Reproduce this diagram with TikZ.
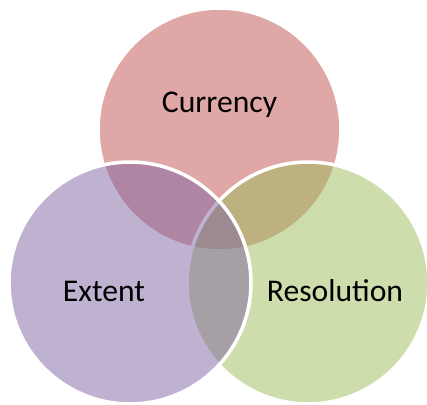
\documentclass[tikz,border=0pt]{standalone}
\usepackage{fontspec}
\setmainfont{Carlito}
\usetikzlibrary{positioning}
\definecolor{currred}{HTML}{C0504D}
\definecolor{extpurple}{HTML}{8064A2}
\definecolor{resgreen}{HTML}{9BBB59}
\begin{document}
\begin{tikzpicture}[x=0.02cm, y=-0.02cm,
        set/.style={circle, draw=white, line width=2pt, fill opacity=0.5, inner sep=0pt, minimum size=4.84cm},
        lbl/.style={font=\fontsize{18}{22}\selectfont, anchor=base, text=black},
    ]
        \useasboundingbox (0,0) rectangle (427,405);
        % three sets, top one first
        \node[set, fill=currred, minimum size=4.86cm] (currency) at (219.5,129.5) {};
        \node[set, fill=resgreen] (resolution) at (308,283) {};
        \node[set, fill=extpurple] (extent) at (130,283) {};
        % labels
        \node[lbl] (currencylbl) at (219.5,113) {Currency};
        \node[lbl] (extentlbl) at (104,302) {Extent};
        \node[lbl] (resolutionlbl) at (335,302) {Resolution};
    \end{tikzpicture}
\end{document}
